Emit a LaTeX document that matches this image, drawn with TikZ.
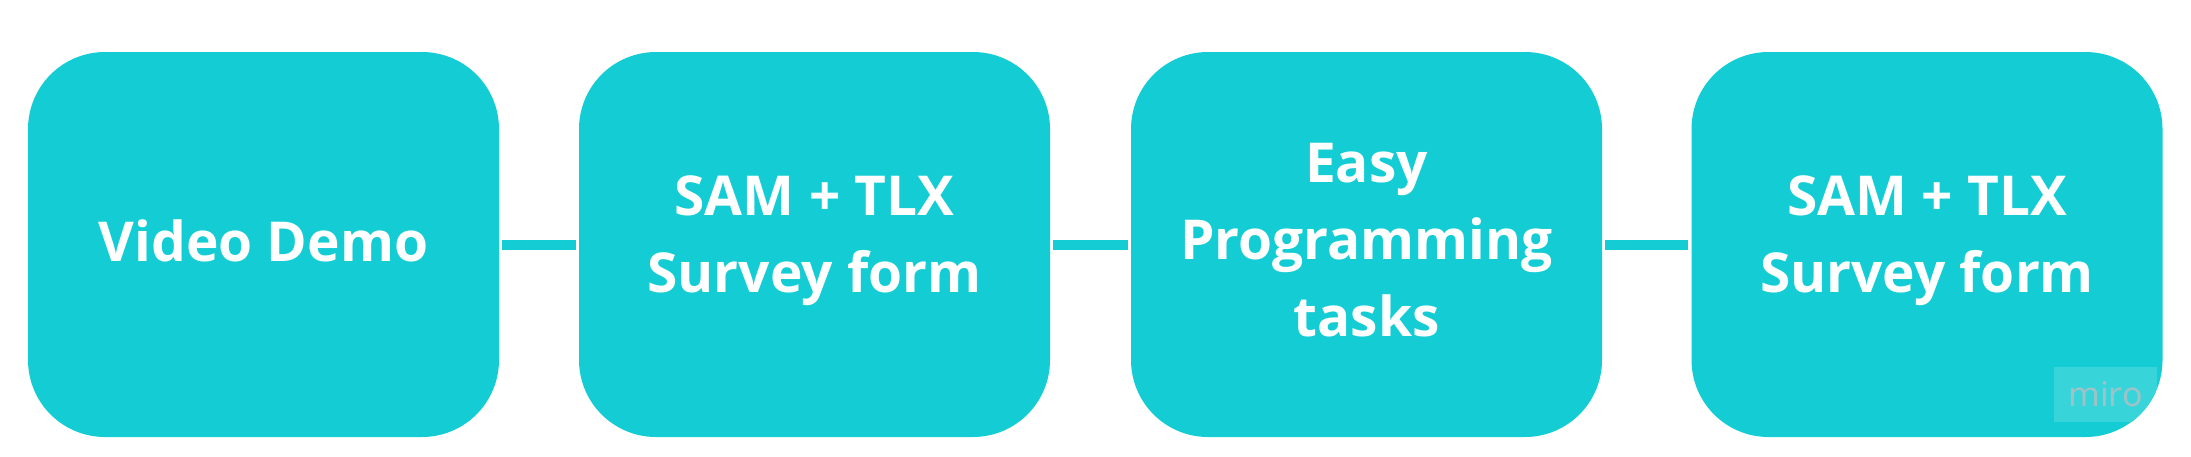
\documentclass[tikz,border=0pt]{standalone}
\usepackage{fontspec}
\newfontfamily\boxfont{Open Sans Bold}
\newfontfamily\wmfont{Noto Sans}
\definecolor{miroteal}{HTML}{14CDD4}
\definecolor{mirolight}{HTML}{37D4DA}
\definecolor{mirogray}{HTML}{9CC3C8}
\begin{document}
\begin{tikzpicture}[x=1pt,y=-1pt,
  stepbox/.style={fill=miroteal, draw=none, rounded corners=77pt,
    minimum width=471pt, minimum height=385pt, inner sep=0pt},
  steptext/.style={text=white, font=\boxfont\fontsize{55}{77}\selectfont, inner sep=0pt},
  link/.style={draw=miroteal, line width=10pt}]
\useasboundingbox (0,0) rectangle (2191,456);
\node[stepbox] (b1) at (263.5,244.5) {};
\node[stepbox] (b2) at (814.5,244.5) {};
\node[stepbox] (b3) at (1366.5,244.5) {};
\node[stepbox] (b4) at (1927,244.5) {};
\node[steptext] (t1) at ([yshift=4pt]b1.center) {Video Demo};
\node[steptext, align=center] (t2) at ([yshift=4pt]b2.center) {SAM + TLX\\Survey form};
\node[steptext, align=center] (t3) at ([yshift=4pt]b3.center) {Easy\\Programming\\tasks};
\node[steptext, align=center] (t4) at ([yshift=4pt]b4.center) {SAM + TLX\\Survey form};
\draw[link] ([xshift=3pt]b1.east) -- ([xshift=-3pt]b2.west);
\draw[link] ([xshift=3pt]b2.east) -- ([xshift=-3pt]b3.west);
\draw[link] ([xshift=3pt]b3.east) -- ([xshift=-3pt]b4.west);
\begin{scope}
  \clip[rounded corners=77pt] (b4.south west) rectangle (b4.north east);
  \fill[mirolight] (2054,367) rectangle (2157,422);
\end{scope}
\node[text=mirogray, inner sep=0pt, font=\wmfont\fontsize{34}{40}\selectfont] (wm) at (2105.5,394.5) {miro};
\end{tikzpicture}
\end{document}
